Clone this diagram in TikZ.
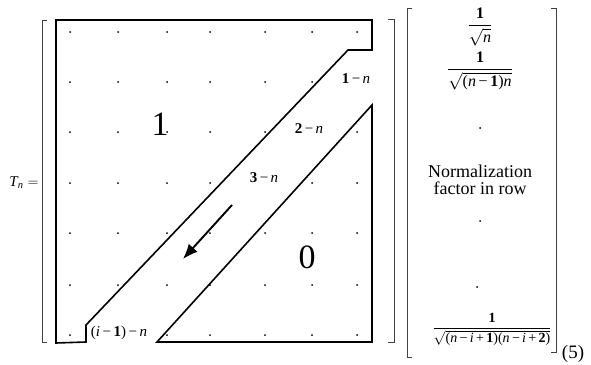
\documentclass[tikz,border=0pt]{standalone}
\usepackage{amsmath}
\usepackage{fontspec}
\setmainfont{Liberation Serif}
\usepackage{tikz}
\usetikzlibrary{arrows.meta,positioning}

\begin{document}
\begin{tikzpicture}[x=1pt, y=-1pt, >=Latex]
\tikzstyle{edge}=[line width=1.6pt]
\tikzstyle{brk}=[line width=0.7pt, black!75]
\tikzstyle{pt}=[circle, fill=black, inner sep=0pt, minimum size=2pt]
\tikzstyle{lbl}=[font=\fontsize{15}{16}\selectfont, fill=white, inner sep=1pt]
\tikzstyle{big}=[font=\fontsize{34}{36}\selectfont, inner sep=0pt]
\tikzstyle{vec}=[font=\fontsize{16}{17}\selectfont, inner sep=0pt]
\useasboundingbox (0,0) rectangle (591,364);

% grid of dots
\foreach \x in {70,118,167,210,265,312,357}
  \foreach \y in {32,82,132,183,233,285,335}
    \node[pt] at (\x,\y) {};

\node[font=\fontsize{15}{16}\selectfont] (tn) at (24,183) {$\textit{T}_{\textit{n}} =$};

\node[big] (one) at (160,124) {1};
\node[big] (zero) at (307,257) {0};

\node[lbl] (d1) at (356,79) {\textbf{1}\,−\,\textit{n}};
\node[lbl] (d2) at (309,129) {\textbf{2}\,−\,\textit{n}};
\node[lbl] (d3) at (264,178) {\textbf{3}\,−\,\textit{n}};
\node[lbl] (di) at (119,333) {(\textit{i}\,−\,\textbf{1})\,−\,\textit{n}};

% outline of the two regions
\draw[edge] (56,20) -- (372,20) -- (372,50) -- (348,50) -- (86,325)
  -- (86,342) -- (56,343) -- cycle;
\draw[edge] (157,342) -- (372,105) -- (372,342) -- cycle;

% brackets
\draw[brk] (47,20) -- (42,20) -- (42,342) -- (47,342);
\draw[brk] (388,19) -- (394,19) -- (394,342) -- (388,342);
\draw[brk] (412,8) -- (407,8) -- (407,357) -- (412,357);
\draw[brk] (551,8) -- (556,8) -- (556,352) -- (551,352);

\coordinate (a0) at (232,205);
\coordinate (a1) at (183,259);
\draw[-{Latex[length=15pt,width=12pt]}, line width=1.9pt] (a0) -- (a1);

% normalization vector
\node[vec] (f1) at (480,27) {$\dfrac{\textbf{1}}{\sqrt{\textit{n}}}$};
\node[vec] (f2) at (480,71) {$\dfrac{\textbf{1}}{\sqrt{\mbox{(\textit{n}\,−\,\textbf{1})\textit{n}}}}$};
\node[pt] (p1) at (480,128) {};
\node[vec, font=\fontsize{18}{17}\selectfont, align=center] (norm) at (480,180) {Normalization\\factor in row};
\node[pt] (p2) at (480,221) {};
\node[pt] (p3) at (477,287) {};
\node[vec, font=\fontsize{14}{17}\selectfont] (f3) at (492,329) {$\dfrac{\textbf{1}}{\sqrt{\mbox{(\textit{n}\,−\,\textit{i}\,+\,\textbf{1})(\textit{n}\,−\,\textit{i}\,+\,\textbf{2})}}}$};
\node[font=\fontsize{19}{21}\selectfont, inner sep=0pt] (eq) at (573,354) {(5)};
\end{tikzpicture}
\end{document}
